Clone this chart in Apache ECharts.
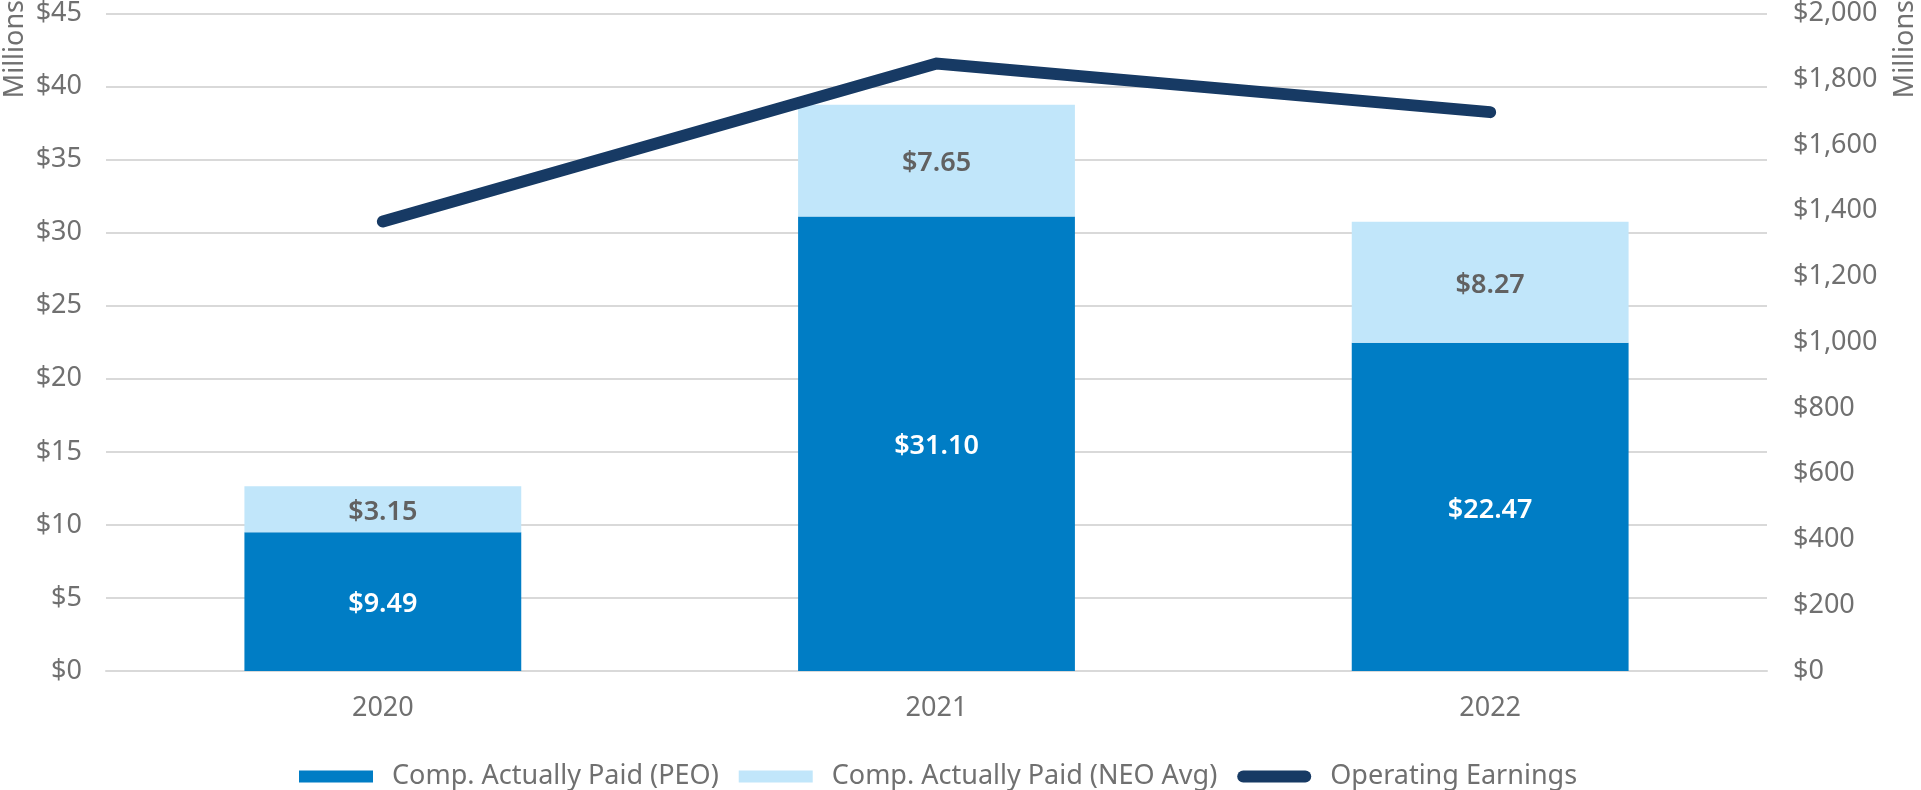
<!DOCTYPE html>
<html>
<head>
<meta charset="utf-8">
<script src="https://cdn.jsdelivr.net/npm/echarts@6/dist/echarts.min.js"></script>
<style>
html,body{margin:0;padding:0;background:#fff;}
#chart{width:1921px;height:790px;}
</style>
</head>
<body>
<div id="chart"></div>
<script>
var categories = ['2020', '2021', '2022'];
var peoValues = [9.49, 31.10, 22.47];
var neoValues = [3.15, 7.65, 8.27];
var earningsValues = [1367, 1848, 1700];
var seriesNames = ['Comp. Actually Paid (PEO)', 'Comp. Actually Paid (NEO Avg)', 'Operating Earnings'];
var axisUnit = 'Millions';

var FONT = '"Noto Sans", "Open Sans", sans-serif';
var GRAY = '#707070';
var FS = 27;

var chart = echarts.init(document.getElementById('chart'));
chart.setOption({
  animation: false,
  textStyle: { fontFamily: FONT },
  grid: { left: 106, right: 154, top: 13.5, bottom: 119, containLabel: false },
  legend: {
    left: 294,
    top: 758,
    itemGap: 20,
    itemWidth: 74,
    itemHeight: 12,
    textStyle: { fontFamily: FONT, fontSize: FS, color: GRAY, padding: [0, 0, 0, 14] },
    data: [
      { name: seriesNames[0], icon: 'rect' },
      { name: seriesNames[1], icon: 'rect' },
      { name: seriesNames[2], icon: 'path://M6,0 H68 A6,6 0 0 1 68,12 H6 A6,6 0 0 1 6,0 Z' }
    ]
  },
  graphic: [
    { type: 'text', x: 2, y: 0, rotation: Math.PI / 2,
      style: { text: axisUnit, font: FS + 'px ' + FONT, fill: GRAY, textAlign: 'right', textVerticalAlign: 'top' } },
    { type: 'text', x: 1892, y: 0, rotation: Math.PI / 2,
      style: { text: axisUnit, font: FS + 'px ' + FONT, fill: GRAY, textAlign: 'right', textVerticalAlign: 'top' } }
  ],
  xAxis: {
    type: 'category',
    data: categories,
    axisTick: { show: false },
    axisLine: { lineStyle: { color: '#d9d9d9', width: 2 } },
    axisLabel: { fontSize: FS, color: GRAY, margin: 24, fontFamily: FONT }
  },
  yAxis: [
    {
      type: 'value', min: 0, max: 45, interval: 5,
      axisLabel: { fontSize: FS, color: GRAY, margin: 24, fontFamily: FONT,
        formatter: function (v) { return '$' + v; } },
      splitLine: { lineStyle: { color: '#d9d9d9', width: 2 } },
      axisLine: { show: false }, axisTick: { show: false }
    },
    {
      type: 'value', min: 0, max: 2000, interval: 200,
      axisLabel: { fontSize: FS, color: GRAY, margin: 26, fontFamily: FONT,
        formatter: function (v) { return '$' + v.toLocaleString('en-US'); } },
      splitLine: { show: false },
      axisLine: { show: false }, axisTick: { show: false }
    }
  ],
  series: [
    {
      name: seriesNames[0], type: 'bar', stack: 'cap', barWidth: '50%',
      data: peoValues,
      itemStyle: { color: '#007dc5' },
      label: { show: true, position: 'inside', offset: [0, 3], color: '#ffffff', fontSize: FS, fontWeight: 600, fontFamily: FONT,
        formatter: function (p) { return '$' + p.value.toFixed(2); } }
    },
    {
      name: seriesNames[1], type: 'bar', stack: 'cap', barWidth: '50%',
      data: neoValues,
      itemStyle: { color: '#c1e6fa' },
      label: { show: true, position: 'inside', offset: [0, 3], color: '#616161', fontSize: FS, fontWeight: 600, fontFamily: FONT,
        formatter: function (p) { return '$' + p.value.toFixed(2); } }
    },
    {
      name: seriesNames[2], type: 'line', yAxisIndex: 1, z: 5,
      data: earningsValues,
      showSymbol: false, symbol: 'none',
      itemStyle: { color: '#173a64' },
      lineStyle: { color: '#173a64', width: 12, cap: 'round', join: 'miter' }
    }
  ]
});
</script>
</body>
</html>
